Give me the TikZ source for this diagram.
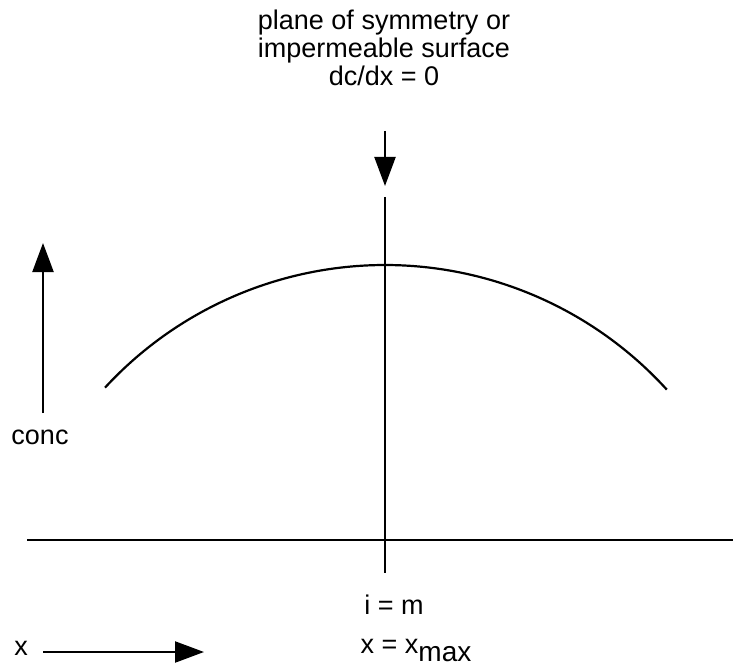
\documentclass[tikz,border=0pt]{standalone}
\usepackage{fontspec}
\setmainfont{Liberation Sans}
\usetikzlibrary{arrows.meta}
\begin{document}
\begin{tikzpicture}[x=1pt,y=-1pt,
  ln/.style={line width=2.2pt, line cap=butt},
  arr/.style={ln, -{Triangle[length=29pt,width=21pt]}},
  lbl/.style={font=\fontsize{27}{28}\selectfont, inner sep=0pt, align=center}]
\useasboundingbox (0,0) rectangle (733,668);
% top label
\node[lbl] (top) at (384,48) {plane of symmetry or\\impermeable surface\\dc/dx = 0};
\coordinate (tA) at (385,131);
\coordinate (tB) at (385,186);
\draw[arr] (tA) -- (tB);
% symmetry line
\coordinate (vT) at (385,197);
\coordinate (vB) at (385,573);
\draw[ln] (vT) -- (vB);
% horizontal axis
\coordinate (hL) at (27,540);
\coordinate (hR) at (733,540);
\draw[ln] (hL) -- (hR);
% concentration profile (circular arc)
\coordinate (cc) at (385,646);
\draw[ln] (cc) ++(-137.3:381) arc[start angle=-137.3, end angle=-42.3, radius=381];
% conc axis
\coordinate (cB) at (43,413);
\coordinate (cT) at (43,243);
\draw[arr] (cB) -- (cT);
\node[lbl] (conc) at (40,437) {conc};
% x axis arrow
\node[lbl] (xl) at (21,648) {x};
\coordinate (xA) at (43,652);
\coordinate (xB) at (204,652);
\draw[arr] (xA) -- (xB);
% labels below
\node[lbl] (im) at (394,605) {i = m};
\node[lbl, anchor=base] (xm) at (416,653) {x = x\raisebox{-8pt}{\fontsize{28}{28}\selectfont max}};
\end{tikzpicture}
\end{document}
